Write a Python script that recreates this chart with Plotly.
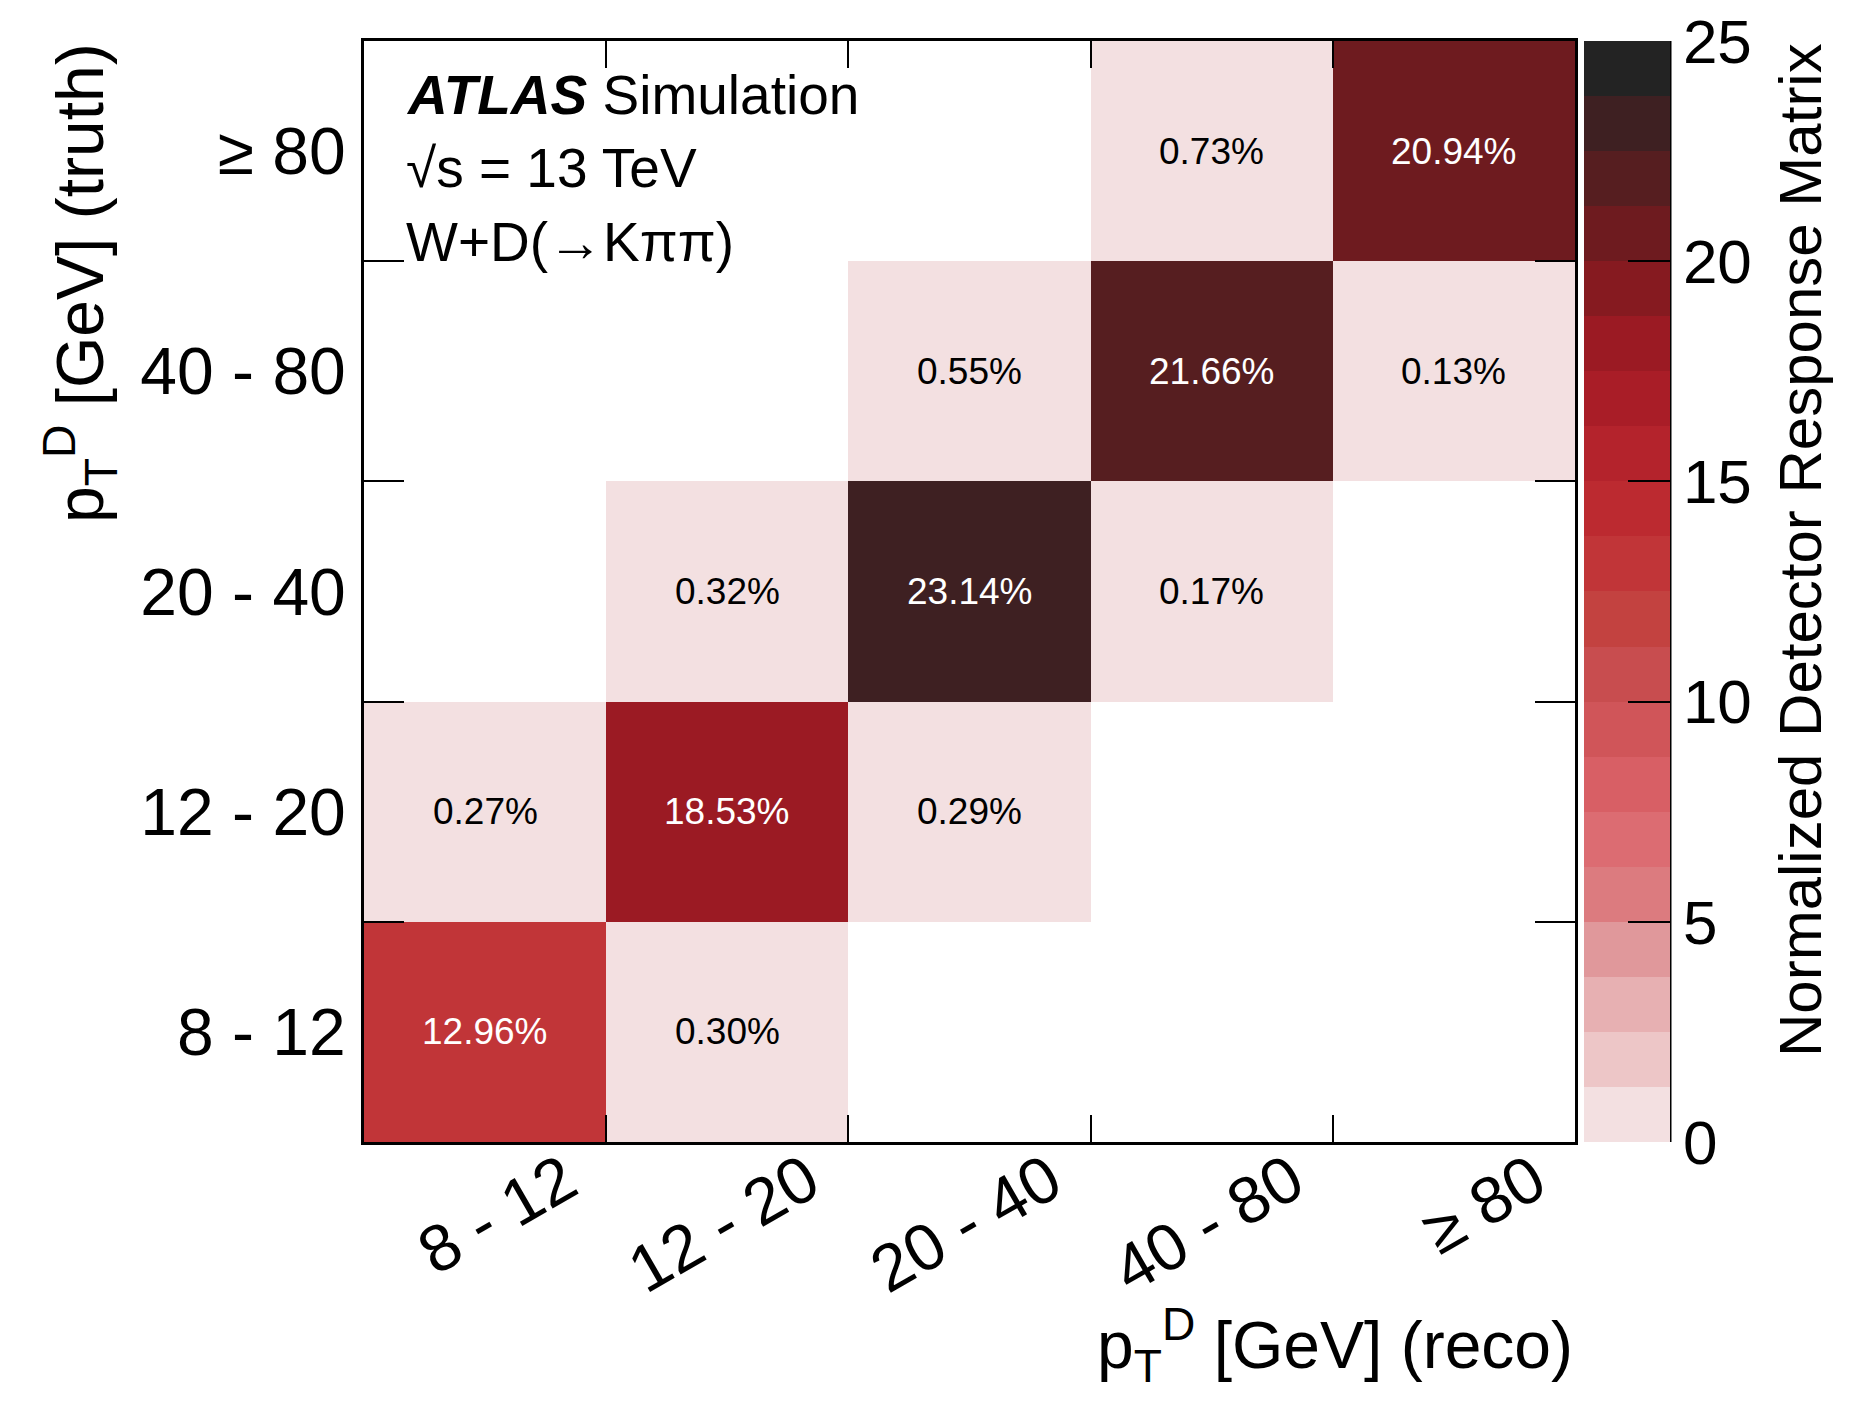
import plotly.graph_objects as go

# ---- data ----
reco_bins = ["8 - 12", "12 - 20", "20 - 40", "40 - 80", "≥ 80"]
truth_bins = ["8 - 12", "12 - 20", "20 - 40", "40 - 80", "≥ 80"]
# rows = truth bins (bottom to top), columns = reco bins
row_8_12 = [12.96, 0.30, None, None, None]
row_12_20 = [0.27, 18.53, 0.29, None, None]
row_20_40 = [None, 0.32, 23.14, 0.17, None]
row_40_80 = [None, None, 0.55, 21.66, 0.13]
row_ge80 = [None, None, None, 0.73, 20.94]
z = [row_8_12, row_12_20, row_20_40, row_40_80, row_ge80]

cbar_ticks = [0, 5, 10, 15, 20, 25]
palette = ["#f3e0e1", "#edc6c7", "#e7b0b2", "#e0989b", "#dc7b7f",
           "#dc6c72", "#d85f65", "#d05559", "#c84d4f", "#c34240",
           "#c13538", "#bc2a30", "#b4232c", "#a91d27", "#9b1a23",
           "#861a20", "#6e1b1f", "#561e20", "#3e2022", "#232323"]

FONT = "Liberation Sans, Arial, Helvetica, sans-serif"

n = len(palette)
colorscale = []
for i, c in enumerate(palette):
    colorscale.append([i / n, c])
    colorscale.append([(i + 1) / n, c])

W, H = 1860, 1401
ml, mr, mt, mb = 364, 285, 41, 259
pw = W - ml - mr
cb_left = 1584
cb_thick = 86
cb_x = (cb_left - ml) / pw

fig = go.Figure()
fig.add_trace(go.Heatmap(
    x=reco_bins, y=truth_bins, z=z,
    zmin=0, zmax=25, colorscale=colorscale,
    hoverongaps=False,
    colorbar=dict(
        x=cb_x, xanchor="left", xpad=0, ypad=0,
        y=0.5, yanchor="middle", len=1, lenmode="fraction",
        thickness=cb_thick, thicknessmode="pixels",
        outlinewidth=0,
        tickmode="array", tickvals=cbar_ticks,
        ticks="inside", ticklen=42, tickwidth=2, tickcolor="black",
        tickfont=dict(family=FONT, size=62, color="black"),
    ),
))

annotations = []
for r, row in enumerate(z):
    for c, v in enumerate(row):
        if v is None:
            continue
        annotations.append(dict(
            x=reco_bins[c], y=truth_bins[r], xref="x", yref="y",
            text=f"{v:.2f}%", showarrow=False,
            font=dict(family=FONT, size=37,
                      color="white" if v > 5 else "black"),
        ))

# ATLAS label
annotations += [
    dict(x=(404 - ml) / pw, y=0.951, xref="paper", yref="paper",
         xanchor="left", yanchor="middle", showarrow=False,
         text="<b><i>ATLAS</i></b> Simulation",
         font=dict(family=FONT, size=55, color="black")),
    dict(x=(404 - ml) / pw, y=0.885, xref="paper", yref="paper",
         xanchor="left", yanchor="middle", showarrow=False,
         text="√s = 13 TeV",
         font=dict(family=FONT, size=55, color="black")),
    dict(x=(404 - ml) / pw, y=0.817, xref="paper", yref="paper",
         xanchor="left", yanchor="middle", showarrow=False,
         text="W+D(→Kππ)",
         font=dict(family=FONT, size=55, color="black")),
]

# axis titles
annotations += [
    dict(x=1, y=-0.184, xref="paper", yref="paper",
         xanchor="right", yanchor="middle", showarrow=False,
         text="p<sub>T</sub><sup>D</sup> [GeV] (reco)",
         font=dict(family=FONT, size=66, color="black")),
    dict(x=(80 - ml) / pw, y=1, xref="paper", yref="paper",
         xanchor="center", yanchor="top", showarrow=False, textangle=-90,
         text="p<sub>T</sub><sup>D</sup> [GeV] (truth)",
         font=dict(family=FONT, size=66, color="black")),
    dict(x=(1800 - ml) / pw, y=1, xref="paper", yref="paper",
         xanchor="center", yanchor="top", showarrow=False, textangle=-90,
         text="Normalized Detector Response Matrix",
         font=dict(family=FONT, size=60, color="black")),
]

cb_right = cb_x + cb_thick / pw
shapes = [dict(type="line", xref="paper", yref="paper",
               x0=cb_right, x1=cb_right, y0=0, y1=1,
               line=dict(color="black", width=3))]

fig.update_layout(
    width=W, height=H,
    margin=dict(l=ml, r=mr, t=mt, b=mb, pad=0),
    paper_bgcolor="white", plot_bgcolor="white",
    font=dict(family=FONT, color="black"),
    annotations=annotations, shapes=shapes,
    xaxis=dict(
        type="category", tickson="boundaries",
        ticks="inside", ticklen=27, tickwidth=2, tickcolor="black",
        showline=True, linecolor="black", linewidth=3, mirror="allticks",
        showgrid=False, zeroline=False,
        tickangle=-30, ticklabelshift=80, ticklabelstandoff=-28,
        tickfont=dict(family=FONT, size=66, color="black"),
    ),
    yaxis=dict(
        type="category", tickson="boundaries",
        ticks="inside", ticklen=40, tickwidth=2, tickcolor="black",
        showline=True, linecolor="black", linewidth=3, mirror="allticks",
        showgrid=False, zeroline=False,
        ticklabelstandoff=2,
        tickfont=dict(family=FONT, size=66, color="black"),
    ),
)

fig.write_html("out.html")
